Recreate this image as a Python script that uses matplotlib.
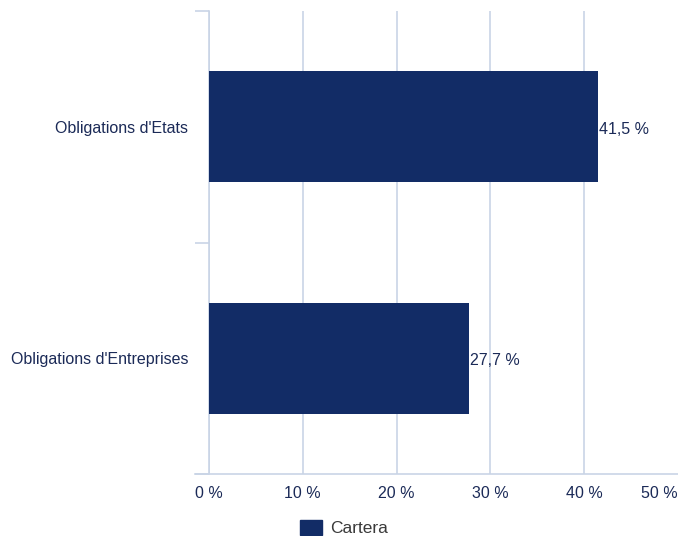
#Goal: horizontal bar chart of the portfolio split by bond type
import matplotlib
matplotlib.use("Agg")
import matplotlib.pyplot as plt
from matplotlib import rcParams
from matplotlib.patches import Patch

rcParams['font.family'] = 'sans-serif'
rcParams['font.sans-serif'] = ['Liberation Sans', 'DejaVu Sans']
rcParams.update({'font.size': 11.5})

#data
categories = ["Obligations d'Etats", "Obligations d'Entreprises"]
values = [41.5, 27.7]
value_labels = ['41,5 %', '27,7 %']
xticks = [0, 10, 20, 30, 40, 50]
xtick_labels = ['0 %', '10 %', '20 %', '30 %', '40 %', '50 %']
series_name = 'Cartera'

bar_color = '#122c66'
grid_color = '#c9d4e6'
text_color = '#1b2a57'

fig = plt.figure(figsize=(6.78, 5.36), dpi=100)
ax = fig.add_axes([209 / 678, 1 - 474 / 536, 1 - 209 / 678, (474 - 11) / 536])

pos = list(range(len(categories)))
ax.barh(pos, values, height=0.48, color=bar_color, zorder=3)
for p, v, lab in zip(pos, values, value_labels):
    ax.text(v + 0.1, p + 0.01, lab, va='center', ha='left', color=text_color,
            fontsize=11.5, zorder=4)

ax.set_xlim(0, 50)
ax.set_ylim(1.5, -0.5)
ax.set_xticks(xticks)
ax.set_xticklabels(xtick_labels, color=text_color)
ax.set_yticks(pos)
ax.set_yticklabels(categories, color=text_color)
ax.set_yticks([-0.5, 0.5, 1.5], minor=True)

ax.tick_params(axis='x', length=0, pad=9)
ax.tick_params(axis='y', which='major', length=0, pad=15)
ax.tick_params(axis='y', which='minor', length=10, width=1.2, color=grid_color)

# last label is pushed inside the figure edge
ax.get_xticklabels()[-1].set_horizontalalignment('right')

ax.xaxis.grid(True, color=grid_color, linewidth=1.2, zorder=0)
ax.get_xgridlines()[-1].set_visible(False)
ax.set_axisbelow(True)

for s in ['top', 'right']:
    ax.spines[s].set_visible(False)
ax.spines['left'].set_color(grid_color)
ax.spines['left'].set_linewidth(1.2)
ax.spines['bottom'].set_color(grid_color)
ax.spines['bottom'].set_linewidth(1.2)
ax.spines['bottom'].set_bounds(-1.5, 50)

handles = [Patch(facecolor=bar_color, edgecolor=bar_color, label=series_name)]
leg = fig.legend(handles=handles, loc='center left',
                 bbox_to_anchor=(284 / 678, 1 - 528 / 536), frameon=False,
                 handlelength=1.3, handleheight=1.0, handletextpad=0.45,
                 fontsize=12.5)
for t in leg.get_texts():
    t.set_color('#3a3a3a')

fig.savefig('out.png', dpi=100)
